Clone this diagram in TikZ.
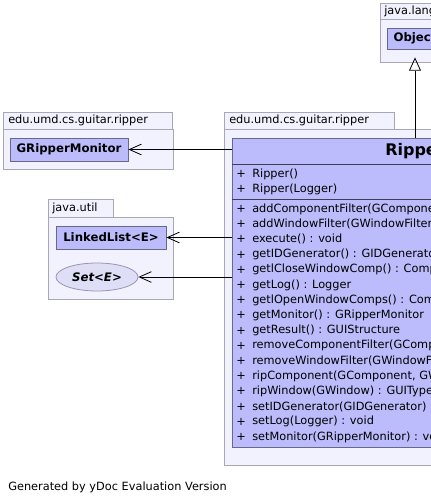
\documentclass[tikz,border=0pt]{standalone}
\usepackage{fontspec}
\setmainfont{DejaVu Sans}
\usetikzlibrary{arrows.meta,shapes.geometric}

\definecolor{pkgfill}{RGB}{242,242,254}
\definecolor{pkgline}{RGB}{168,168,180}
\definecolor{clsfill}{RGB}{188,188,252}
\definecolor{clsline}{RGB}{104,104,136}
\definecolor{ifcfill}{RGB}{222,222,246}
\definecolor{ifcline}{RGB}{150,150,180}

\begin{document}
\begin{tikzpicture}[x=0.75pt,y=-0.75pt,
    pkg/.style={draw=pkgline,fill=pkgfill,line width=0.6pt},
    pkgname/.style={anchor=west,inner sep=0pt,font=\fontsize{8.5}{10}\selectfont},
    cls/.style={draw=clsline,fill=clsfill,line width=0.6pt,inner sep=0pt,font=\bfseries\fontsize{8.8}{10}\selectfont},
    ifc/.style={ellipse,draw=ifcline,fill=ifcfill,line width=0.6pt,inner sep=0pt,font=\bfseries\itshape\fontsize{8.8}{10}\selectfont},
    member/.style={anchor=west,inner sep=0pt,font=\fontsize{8.5}{10}\selectfont},
    uses/.style={draw=black,line width=0.6pt,-{Straight Barb[length=9pt,width=8pt]}},
    extends/.style={draw=black,line width=0.6pt,-{Triangle[open,length=10pt,width=9pt]}}]
\def\px{0.75pt} % one pixel of the reference

\useasboundingbox (0,0) rectangle (431,503);
\clip (0,0) rectangle (431,503);

% Draw the packages
\draw[pkg] (3,112) rectangle (172,129);
\draw[pkg] (3,129) rectangle (173,169);
\node[pkgname] (pkgmon) at (8,120.5) {edu.umd.cs.guitar.ripper};

\draw[pkg] (48,199) rectangle (113,217);
\draw[pkg] (48,217) rectangle (173,299);
\node[pkgname] (pkgutil) at (52,208) {java.util};

\draw[pkg] (224,112) rectangle (394,129);
\draw[pkg] (224,129) rectangle (620,465);
\node[pkgname] (pkgrip) at (229,120.5) {edu.umd.cs.guitar.ripper};

\draw[pkg] (380,3) rectangle (470,19);
\draw[pkg] (380,19) rectangle (620,62);
\node[pkgname] (pkglang) at (384,11) {java.lang};

% Draw the classes
\node[cls,minimum width=118*\px,minimum height=23*\px] (monitor) at (69,149.5) {GRipperMonitor};
\node[cls,minimum width=110*\px,minimum height=23*\px] (list) at (111,237.5) {LinkedList<E>};
\node[ifc,minimum width=82*\px,minimum height=28*\px] (set) at (97,277) {Set<E>};
\node[cls,minimum width=56*\px,minimum height=21*\px] (object) at (415,38.5) {Object};

% Draw the Ripper class with its members
\node[cls,minimum width=366*\px,minimum height=309*\px] (ripper) at (415,292.5) {};
\node[font=\bfseries\fontsize{12}{14}\selectfont,inner sep=0pt] (title) at (415,151) {Ripper};
\draw[clsline!60!black,line width=0.6pt] (ripper.west |- 0,164) -- (ripper.east |- 0,164);
\draw[clsline!60!black,line width=0.6pt] (ripper.west |- 0,199) -- (ripper.east |- 0,199);

\foreach \sig [count=\i from 0] in {Ripper(), Ripper(Logger)}{
    \node[member] (cplus\i) at (236,{174+15.2*\i}) {+};
    \node[member] (ctor\i) at (252,{174+15.2*\i}) {\sig};
}
\foreach \sig [count=\i from 0] in {
    {addComponentFilter(GComponentFilter) : void},
    {addWindowFilter(GWindowFilter) : void},
    {execute() : void},
    {getIDGenerator() : GIDGenerator},
    {getlCloseWindowComp() : ComponentList},
    {getLog() : Logger},
    {getlOpenWindowComps() : ComponentList},
    {getMonitor() : GRipperMonitor},
    {getResult() : GUIStructure},
    {removeComponentFilter(GComponentFilter) : void},
    {removeWindowFilter(GWindowFilter) : void},
    {ripComponent(GComponent, GWindow) : ComponentType},
    {ripWindow(GWindow) : GUIType},
    {setIDGenerator(GIDGenerator) : void},
    {setLog(Logger) : void},
    {setMonitor(GRipperMonitor) : void}}{
    \node[member] (mplus\i) at (236,{209+15.2*\i}) {+};
    \node[member] (meth\i) at (252,{209+15.2*\i}) {\sig};
}

% Draw the edges
\draw[uses] (ripper.west |- monitor) -- (monitor.east);
\draw[uses] (ripper.west |- list) -- (list.east);
\draw[uses] (ripper.west |- set) -- (set.east);
\draw[extends] (ripper.north) -- ([yshift=-6pt]object.south);

\node[member] (footer) at (8,487) {Generated by yDoc Evaluation Version};

\end{tikzpicture}
\end{document}
